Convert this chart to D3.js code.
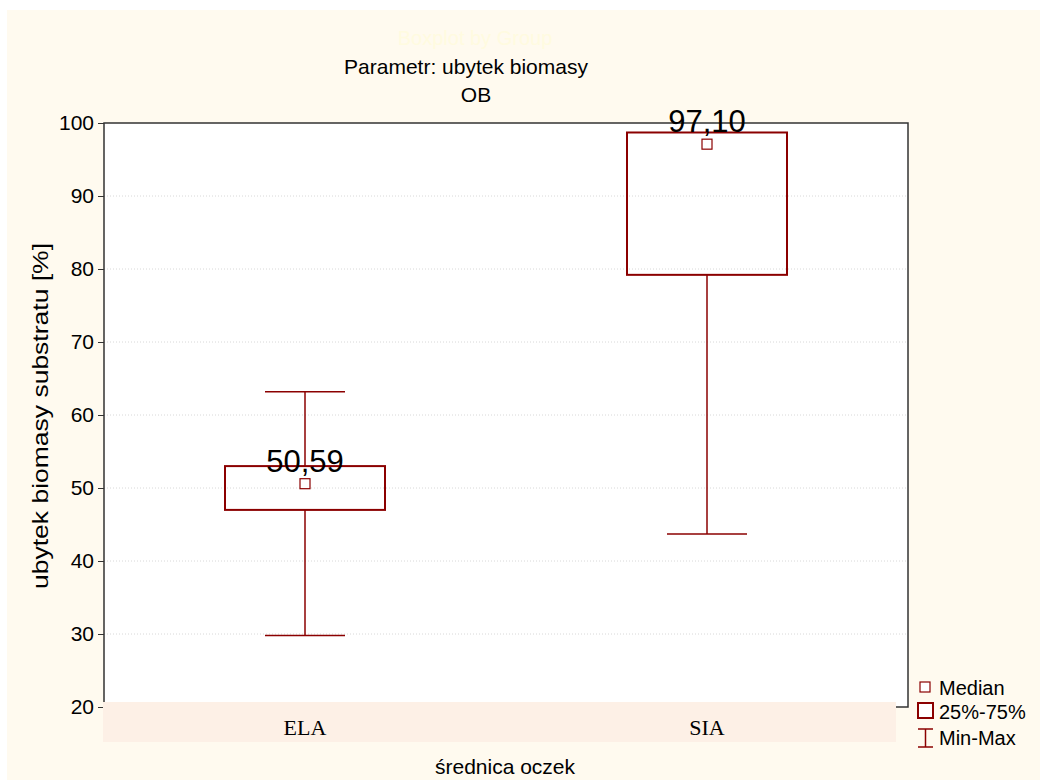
<!DOCTYPE html>
<html>
<head>
<meta charset="utf-8">
<script src="https://cdn.jsdelivr.net/npm/d3@7"></script>
<style>
  body { margin: 0; background: #ffffff; }
  svg { display: block; }
</style>
</head>
<body>
<div id="chart"></div>
<script>
// Data
const groups = ["ELA", "SIA"];
const minVals = [29.8, 43.7];
const q1Vals = [47.0, 79.2];
const medianVals = [50.59, 97.10];
const q3Vals = [53.0, 98.7];
const maxVals = [63.2, 98.7];
const yTicks = [20, 30, 40, 50, 60, 70, 80, 90, 100];

const width = 1040;
const height = 780;
const margin = {left: 104, right: 132, top: 123, bottom: 73};
const red = "#8b0000";
const sans = "Liberation Sans, Arial, sans-serif";

const svg = d3.select("#chart")
  .append("svg")
  .attr("width", width)
  .attr("height", height);

// cream page background
svg.append("rect")
  .attr("x", 7).attr("y", 10)
  .attr("width", width - 7).attr("height", height - 10)
  .attr("fill", "#fffaef");

// plot area
svg.append("rect")
  .attr("x", margin.left).attr("y", margin.top)
  .attr("width", width - margin.left - margin.right)
  .attr("height", height - margin.top - margin.bottom)
  .attr("fill", "#ffffff");

const yScale = d3.scaleLinear()
  .domain([20, 100])
  .range([height - margin.bottom, margin.top]);

const xScale = d3.scaleBand()
  .domain(groups)
  .range([margin.left, width - margin.right])
  .paddingInner(0.6)
  .paddingOuter(0.3);

const cx = d => xScale(d) + xScale.bandwidth() / 2;
const boxW = 160;
const capW = 80;

// dotted grid
svg.append("g")
  .selectAll("line")
  .data(yTicks.filter(t => t > 20 && t < 100))
  .enter()
  .append("line")
    .attr("x1", margin.left).attr("x2", width - margin.right)
    .attr("y1", d => yScale(d)).attr("y2", d => yScale(d))
    .attr("stroke", "#d8d8d8")
    .attr("stroke-dasharray", "1,2");

// y axis
svg.append("g")
  .attr("transform", `translate(${margin.left},0)`)
  .call(d3.axisLeft(yScale).tickValues(yTicks).tickSize(6).tickPadding(4))
  .call(g => g.select(".domain").remove())
  .call(g => g.selectAll("line").attr("stroke", "#333"))
  .selectAll("text")
    .attr("font-family", sans)
    .attr("font-size", "21px")
    .attr("fill", "#000");

// frame
svg.append("rect")
  .attr("x", margin.left).attr("y", margin.top)
  .attr("width", width - margin.left - margin.right)
  .attr("height", height - margin.top - margin.bottom)
  .attr("fill", "none")
  .attr("stroke", "#333")
  .attr("stroke-width", 1.5);

// category label band
svg.append("rect")
  .attr("x", margin.left - 1).attr("y", yScale(20) - 5)
  .attr("width", 793).attr("height", 40)
  .attr("fill", "#fdf0e6");

svg.append("g")
  .selectAll("text")
  .data(groups)
  .enter()
  .append("text")
    .attr("x", d => cx(d))
    .attr("y", yScale(20) + 28)
    .attr("text-anchor", "middle")
    .attr("font-family", "Liberation Serif, Times New Roman, serif")
    .attr("font-size", "22px")
    .text(d => d);

// boxes
const box = svg.append("g")
  .selectAll("g")
  .data(groups)
  .enter()
  .append("g");

box.append("line")
  .attr("x1", d => cx(d)).attr("x2", d => cx(d))
  .attr("y1", (d, i) => yScale(minVals[i]))
  .attr("y2", (d, i) => yScale(q1Vals[i]))
  .attr("stroke", red).attr("stroke-width", 1.5);

box.append("line")
  .attr("x1", d => cx(d)).attr("x2", d => cx(d))
  .attr("y1", (d, i) => yScale(q3Vals[i]))
  .attr("y2", (d, i) => yScale(maxVals[i]))
  .attr("stroke", red).attr("stroke-width", 1.5);

box.append("line")
  .attr("x1", d => cx(d) - capW / 2).attr("x2", d => cx(d) + capW / 2)
  .attr("y1", (d, i) => yScale(minVals[i]))
  .attr("y2", (d, i) => yScale(minVals[i]))
  .attr("stroke", red).attr("stroke-width", 1.5);

box.filter((d, i) => maxVals[i] > q3Vals[i])
  .append("line")
  .attr("x1", d => cx(d) - capW / 2).attr("x2", d => cx(d) + capW / 2)
  .attr("y1", d => yScale(maxVals[groups.indexOf(d)]))
  .attr("y2", d => yScale(maxVals[groups.indexOf(d)]))
  .attr("stroke", red).attr("stroke-width", 1.5);

box.append("rect")
  .attr("x", d => cx(d) - boxW / 2)
  .attr("width", boxW)
  .attr("y", (d, i) => yScale(q3Vals[i]))
  .attr("height", (d, i) => yScale(q1Vals[i]) - yScale(q3Vals[i]))
  .attr("fill", "none")
  .attr("stroke", red).attr("stroke-width", 2);

box.append("rect")
  .attr("x", d => cx(d) - 5)
  .attr("y", (d, i) => yScale(medianVals[i]) - 5)
  .attr("width", 10).attr("height", 10)
  .attr("fill", "#fff")
  .attr("stroke", red).attr("stroke-width", 1.2);

box.append("text")
  .attr("x", d => cx(d))
  .attr("y", (d, i) => yScale(medianVals[i]) - 12)
  .attr("text-anchor", "middle")
  .attr("font-family", sans)
  .attr("font-size", "31px")
  .text((d, i) => medianVals[i].toFixed(2).replace(".", ","));

// titles
svg.append("text")
  .attr("x", 475).attr("y", 45)
  .attr("text-anchor", "middle")
  .attr("font-family", sans).attr("font-size", "20px")
  .attr("fill", "#fffbe0")
  .text("Boxplot by Group");

svg.append("text")
  .attr("x", 466).attr("y", 74)
  .attr("text-anchor", "middle")
  .attr("font-family", sans).attr("font-size", "21px")
  .text("Parametr: ubytek biomasy");

svg.append("text")
  .attr("x", 476).attr("y", 102)
  .attr("text-anchor", "middle")
  .attr("font-family", sans).attr("font-size", "21px")
  .text("OB");

svg.append("text")
  .attr("transform", `translate(48, 416) rotate(-90)`)
  .attr("text-anchor", "middle")
  .attr("font-family", sans).attr("font-size", "22px")
  .attr("textLength", 346)
  .attr("lengthAdjust", "spacingAndGlyphs")
  .text("ubytek biomasy substratu [%]");

svg.append("text")
  .attr("x", 505).attr("y", 774)
  .attr("text-anchor", "middle")
  .attr("font-family", sans).attr("font-size", "21px")
  .text("średnica oczek");

// legend
const lg = svg.append("g").attr("transform", "translate(917, 0)");
lg.append("rect").attr("x", 3).attr("y", 682).attr("width", 10).attr("height", 10)
  .attr("fill", "#fff").attr("stroke", red).attr("stroke-width", 1.2);
lg.append("rect").attr("x", 1).attr("y", 703).attr("width", 15).attr("height", 15)
  .attr("fill", "#fff").attr("stroke", red).attr("stroke-width", 2);
lg.append("line").attr("x1", 8.5).attr("x2", 8.5).attr("y1", 729).attr("y2", 747)
  .attr("stroke", red).attr("stroke-width", 1.5);
lg.append("line").attr("x1", 1).attr("x2", 16).attr("y1", 729).attr("y2", 729)
  .attr("stroke", red).attr("stroke-width", 1.5);
lg.append("line").attr("x1", 1).attr("x2", 16).attr("y1", 747).attr("y2", 747)
  .attr("stroke", red).attr("stroke-width", 1.5);
[["Median", 695], ["25%-75%", 719], ["Min-Max", 745]].forEach(([t, y]) => {
  lg.append("text").attr("x", 22).attr("y", y)
    .attr("font-family", sans).attr("font-size", "20px").text(t);
});
</script>
</body>
</html>
